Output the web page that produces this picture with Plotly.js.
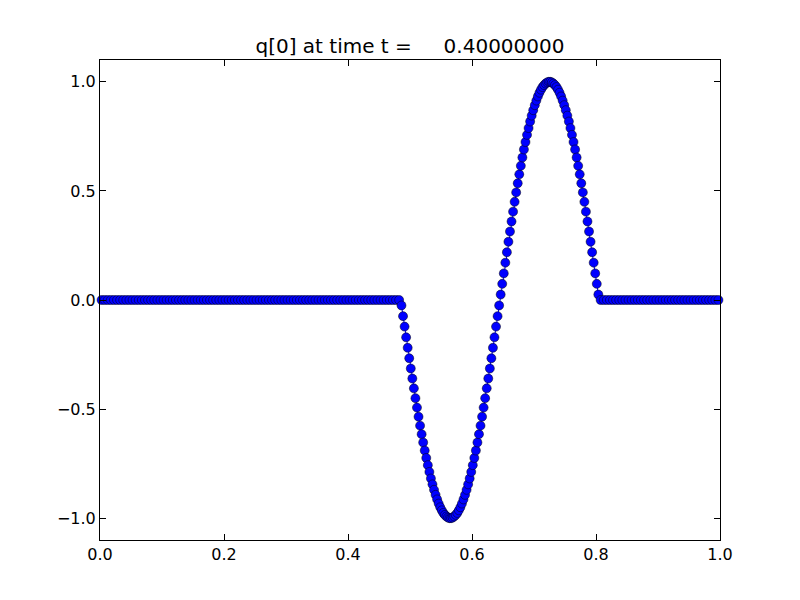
<!DOCTYPE html>
<html>
<head>
<meta charset="utf-8">
<script src="https://cdn.plot.ly/plotly-3.0.1.min.js"></script>
<style>html,body{margin:0;padding:0;background:#fff;}#plot{width:800px;height:600px;}</style>
</head>
<body>
<div id="plot"></div>
<script>
// Cell centers: coarse grid (dx = 0.005) outside the wave, refined grid (dx = 0.0025) on the wave
const xLeft = [
0.0025,0.0075,0.0125,0.0175,0.0225,0.0275,0.0325,0.0375,0.0425,0.0475,0.0525,0.0575,0.0625,0.0675,0.0725,0.0775,0.0825,0.0875,0.0925,0.0975,
0.1025,0.1075,0.1125,0.1175,0.1225,0.1275,0.1325,0.1375,0.1425,0.1475,0.1525,0.1575,0.1625,0.1675,0.1725,0.1775,0.1825,0.1875,0.1925,0.1975,
0.2025,0.2075,0.2125,0.2175,0.2225,0.2275,0.2325,0.2375,0.2425,0.2475,0.2525,0.2575,0.2625,0.2675,0.2725,0.2775,0.2825,0.2875,0.2925,0.2975,
0.3025,0.3075,0.3125,0.3175,0.3225,0.3275,0.3325,0.3375,0.3425,0.3475,0.3525,0.3575,0.3625,0.3675,0.3725,0.3775,0.3825,0.3875,0.3925,0.3975,
0.4025,0.4075,0.4125,0.4175,0.4225,0.4275,0.4325,0.4375,0.4425,0.4475,0.4525,0.4575,0.4625,0.4675,0.4725,0.4775,0.4825
];
const xWave = [
0.48625,0.48875,0.49125,0.49375,0.49625,0.49875,
0.50125,0.50375,0.50625,0.50875,0.51125,0.51375,0.51625,0.51875,0.52125,0.52375,0.52625,0.52875,0.53125,0.53375,0.53625,0.53875,0.54125,0.54375,0.54625,0.54875,
0.55125,0.55375,0.55625,0.55875,0.56125,0.56375,0.56625,0.56875,0.57125,0.57375,0.57625,0.57875,0.58125,0.58375,0.58625,0.58875,0.59125,0.59375,0.59625,0.59875,
0.60125,0.60375,0.60625,0.60875,0.61125,0.61375,0.61625,0.61875,0.62125,0.62375,0.62625,0.62875,0.63125,0.63375,0.63625,0.63875,0.64125,0.64375,0.64625,0.64875,
0.65125,0.65375,0.65625,0.65875,0.66125,0.66375,0.66625,0.66875,0.67125,0.67375,0.67625,0.67875,0.68125,0.68375,0.68625,0.68875,0.69125,0.69375,0.69625,0.69875,
0.70125,0.70375,0.70625,0.70875,0.71125,0.71375,0.71625,0.71875,0.72125,0.72375,0.72625,0.72875,0.73125,0.73375,0.73625,0.73875,0.74125,0.74375,0.74625,0.74875,
0.75125,0.75375,0.75625,0.75875,0.76125,0.76375,0.76625,0.76875,0.77125,0.77375,0.77625,0.77875,0.78125,0.78375,0.78625,0.78875,0.79125,0.79375,0.79625,0.79875,
0.80125,0.80375
];
const xRight = [
0.8075,0.8125,0.8175,0.8225,0.8275,0.8325,0.8375,0.8425,0.8475,0.8525,0.8575,0.8625,0.8675,0.8725,0.8775,0.8825,0.8875,0.8925,0.8975,
0.9025,0.9075,0.9125,0.9175,0.9225,0.9275,0.9325,0.9375,0.9425,0.9475,0.9525,0.9575,0.9625,0.9675,0.9725,0.9775,0.9825,0.9875,0.9925,0.9975
];

// q[0] values
const qLeft = [
0,0,0,0,0,0,0,0,0,0, 0,0,0,0,0,0,0,0,0,0,
0,0,0,0,0,0,0,0,0,0, 0,0,0,0,0,0,0,0,0,0,
0,0,0,0,0,0,0,0,0,0, 0,0,0,0,0,0,0,0,0,0,
0,0,0,0,0,0,0,0,0,0, 0,0,0,0,0,0,0,0,0,0,
0,0,0,0,0,0,0,0,0,0, 0,0,0,0,0,0,0
];
const qWave = [
-0.025,-0.074,-0.122,-0.171,-0.219,-0.267,-0.314,-0.360,-0.405,-0.450,-0.493,-0.535,-0.576,-0.615,-0.653,-0.690,
-0.724,-0.757,-0.788,-0.818,-0.845,-0.870,-0.893,-0.914,-0.933,-0.950,-0.964,-0.976,-0.985,-0.992,-0.997,-1.000,
-1.000,-0.997,-0.992,-0.985,-0.976,-0.964,-0.950,-0.933,-0.914,-0.893,-0.870,-0.845,-0.818,-0.788,-0.757,-0.724,
-0.690,-0.653,-0.615,-0.576,-0.535,-0.493,-0.450,-0.405,-0.360,-0.314,-0.267,-0.219,-0.171,-0.122,-0.074,-0.025,
0.025,0.074,0.122,0.171,0.219,0.267,0.314,0.360,0.405,0.450,0.493,0.535,0.576,0.615,0.653,0.690,
0.724,0.757,0.788,0.818,0.845,0.870,0.893,0.914,0.933,0.950,0.964,0.976,0.985,0.992,0.997,1.000,
1.000,0.997,0.992,0.985,0.976,0.964,0.950,0.933,0.914,0.893,0.870,0.845,0.818,0.788,0.757,0.724,
0.690,0.653,0.615,0.576,0.535,0.493,0.450,0.405,0.360,0.314,0.267,0.219,0.171,0.122,0.074,0.025
];
const qRight = [
0,0,0,0,0,0,0,0,0,0, 0,0,0,0,0,0,0,0,0,0,
0,0,0,0,0,0,0,0,0,0, 0,0,0,0,0,0,0,0,0
];

const xTicks = [0, 0.2, 0.4, 0.6, 0.8, 1.0];
const yTicks = [-1.0, -0.5, 0.0, 0.5, 1.0];
const titleText = "q[0] at time t =\u00a0\u00a0\u00a0\u00a0\u00a00.40000000";

const xValues = xLeft.concat(xWave, xRight);
const qValues = qLeft.concat(qWave, qRight);

const font = {family: "DejaVu Sans, sans-serif", size: 16, color: "#000"};

const axisCommon = {
  showgrid: false, zeroline: false, showline: true, mirror: "ticks",
  linecolor: "#000", linewidth: 1, ticks: "inside", ticklen: 6, tickwidth: 1,
  tickcolor: "#000", tickfont: font, tickformat: ".1f", tickmode: "array"
};

Plotly.newPlot("plot", [{
  x: xValues, y: qValues, type: "scatter", mode: "lines+markers",
  line: {color: "#0000ff", width: 1},
  marker: {color: "#0000ff", size: 9, line: {color: "#000", width: 0.5}},
  cliponaxis: false, hoverinfo: "skip"
}], {
  width: 800, height: 600,
  margin: {l: 100, r: 80, t: 60, b: 60},
  paper_bgcolor: "#fff", plot_bgcolor: "#fff",
  showlegend: false,
  font: font,
  title: {text: titleText, font: {family: "DejaVu Sans, sans-serif", size: 20, color: "#000"},
          x: 0.5125, xanchor: "center", xref: "container", y: 0.912, yref: "container", yanchor: "bottom"},
  xaxis: Object.assign({}, axisCommon, {range: [0, 1], tickvals: xTicks}),
  yaxis: Object.assign({}, axisCommon, {range: [-1.1, 1.1], tickvals: yTicks})
}, {staticPlot: true});
</script>
</body>
</html>
